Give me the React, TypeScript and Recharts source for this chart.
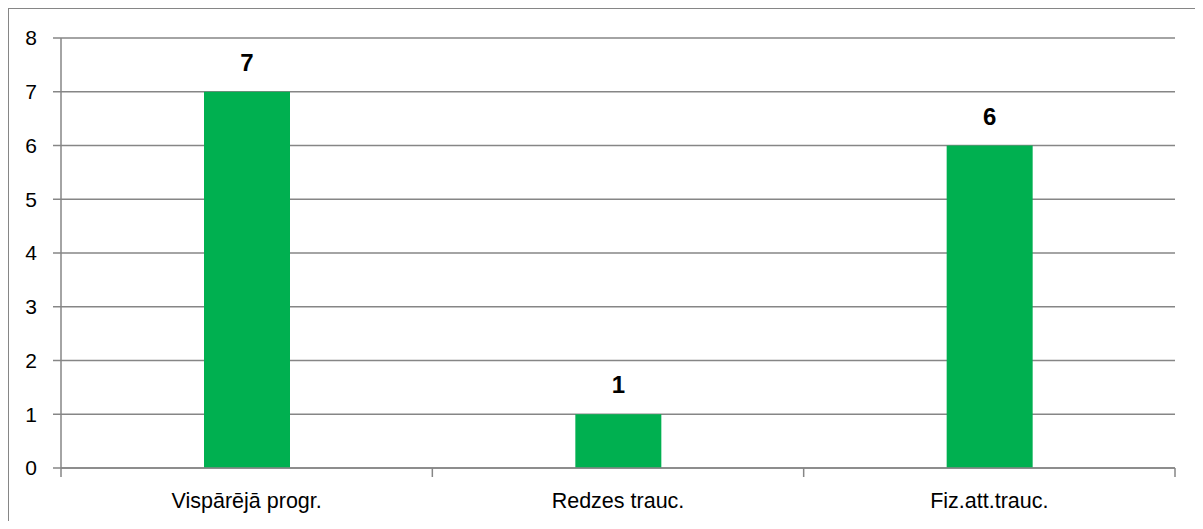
import React from "react";
import { BarChart, Bar, XAxis, YAxis, CartesianGrid, LabelList } from "recharts";

const categories = ["Vispārējā progr.", "Redzes trauc.", "Fiz.att.trauc."];
const values = [7, 1, 6];
const yTicks = [0, 1, 2, 3, 4, 5, 6, 7, 8];

const data = categories.map((name, i) => ({ name, value: values[i] }));

const GRID = "#868686";
const FONT = "'Liberation Sans', Arial, sans-serif";
const X_TICK_SIZE = 9;
const X_TICK_MARGIN = 15;

function CategoryTick(props: any) {
  const { x, y, payload, width, visibleTicksCount, index } = props;
  const band = width / visibleTicksCount;
  const axisY = y - X_TICK_SIZE - X_TICK_MARGIN;
  const left = x - band / 2;
  const right = x + band / 2;
  return (
    <g>
      <line x1={left} x2={left} y1={axisY} y2={axisY + X_TICK_SIZE} stroke={GRID} strokeWidth={1.5} />
      {index === visibleTicksCount - 1 && (
        <line x1={right} x2={right} y1={axisY} y2={axisY + X_TICK_SIZE} stroke={GRID} strokeWidth={1.5} />
      )}
      <text
        x={x}
        y={y}
        dy="0.75em"
        textAnchor="middle"
        fill="#000"
        fontSize={21.5}
        fontFamily={FONT}
      >
        {payload.value}
      </text>
    </g>
  );
}

export default function App() {
  return (
    <div
      style={{
        width: 1195,
        height: 513,
        borderLeft: `1px solid ${GRID}`,
        borderTop: `1px solid ${GRID}`,
        boxSizing: "border-box",
        overflow: "hidden",
        background: "#fff",
      }}
    >
      <BarChart
        width={1194}
        height={512}
        data={data}
        margin={{ top: 29, right: 28, left: 0, bottom: 0 }}
        style={{ fontFamily: FONT }}
      >
        <CartesianGrid vertical={false} stroke={GRID} strokeWidth={1.5} />
        <XAxis
          dataKey="name"
          height={53}
          tickLine={false}
          axisLine={{ stroke: GRID, strokeWidth: 1.5 }}
          tickSize={X_TICK_SIZE}
          tickMargin={X_TICK_MARGIN}
          tick={<CategoryTick />}
          interval={0}
        />
        <YAxis
          domain={[0, 8]}
          ticks={yTicks}
          width={52}
          tickSize={8}
          tickMargin={16}
          tickLine={{ stroke: GRID, strokeWidth: 1.5 }}
          axisLine={{ stroke: GRID, strokeWidth: 1.5 }}
          tick={{ fill: "#000", fontSize: 21, fontFamily: FONT }}
          interval={0}
        />
        <Bar dataKey="value" fill="#00B050" barSize={86} isAnimationActive={false}>
          <LabelList
            dataKey="value"
            position="top"
            offset={21}
            style={{ fill: "#000", fontSize: 24, fontWeight: "bold", fontFamily: FONT }}
          />
        </Bar>
      </BarChart>
    </div>
  );
}
